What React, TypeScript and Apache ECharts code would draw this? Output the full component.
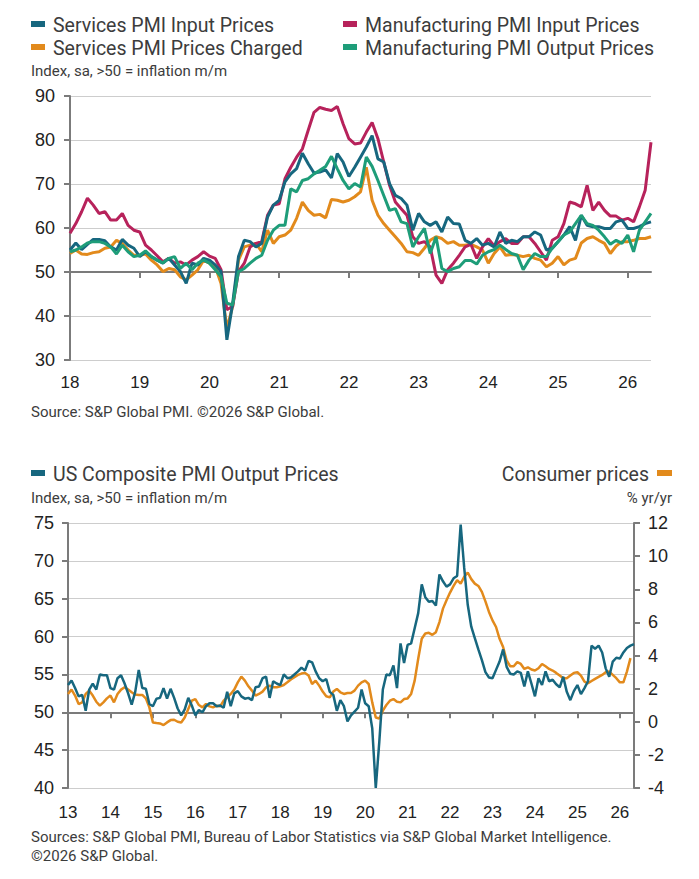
import React, { useEffect, useRef } from "react";
import * as echarts from "echarts";

// ---------- Data ----------
const topStartYear = 2018;
const topMonthCount = 101; // Jan 2018 .. May 2026
const bottomStartYear = 2013;
const bottomMonthCount = 161; // Jan 2013 .. May 2026

const servicesInputName = "Services PMI Input Prices";
const servicesChargedName = "Services PMI Prices Charged";
const mfgInputName = "Manufacturing PMI Input Prices";
const mfgOutputName = "Manufacturing PMI Output Prices";
const compositeName = "US Composite PMI Output Prices";
const cpiName = "Consumer prices";

const servicesInput = [
  55, 56.6, 55.1, 56.3, 57.4, 57.4, 57.1, 55.7, 55, 57.4, 56.1, 55.4,
  53.5, 54.6, 53.5, 52.7, 52, 53.1, 51.6, 50.1, 47.4, 52, 51.6, 53.1,
  52.7, 51.6, 50.1, 34.6, 42.9, 53.5, 57.2, 56.9, 55.7, 56.5, 62.5, 65.2,
  66.3, 70.5, 72.3, 73.5, 77, 74.6, 72.5, 72.7, 73.2, 71.4, 76.9, 75,
  71.7, 73.8, 76.1, 78.4, 81, 75.7, 75, 70.1, 67.4, 66.7, 65.2, 59.5,
  63.3, 61.4, 60.6, 61.4, 59.1, 62.5, 61, 60.9, 57.2, 56.5, 57.6, 56.1,
  56.5, 55.7, 59.1, 56.5, 57.2, 56.9, 58, 58, 59.1, 58.4, 55, 55.4,
  56.9, 58.4, 60.3, 57.2, 62.9, 60.6, 60.3, 60.3, 59.9, 59.9, 61.4, 61.8,
  59.9, 59.9, 60.3, 61, 61.4,
];
const servicesCharged = [
  54.2, 55, 54.1, 54, 54.4, 54.6, 55.4, 55.7, 57.2, 56.5, 55, 53.8,
  53.8, 54.1, 52.7, 51.6, 50.1, 50.8, 50.5, 48.9, 48.2, 49.3, 50.5, 52.7,
  52, 51.2, 47.4, 37.2, 42.2, 52.7, 55.7, 56.1, 56.5, 54.6, 59.5, 56.5,
  58, 58.4, 59.5, 62.2, 65.9, 64, 62.9, 63.1, 62.3, 66.5, 66.3, 65.9,
  66.3, 67.1, 68.2, 73.8, 66.3, 62.9, 61, 59.5, 58, 56.5, 54.6, 54.4,
  53.8, 55.4, 57.2, 58, 57.6, 56.5, 56.9, 56.1, 56.1, 56.3, 55.7, 55,
  52, 54.2, 55.7, 53.8, 54, 53.8, 53.5, 53.8, 53.1, 52.7, 51.2, 52,
  53.5, 51.6, 52.7, 53.1, 56.6, 57.6, 58, 57.2, 56.5, 54.2, 55.9, 56.9,
  56.9, 57.2, 57.6, 57.6, 58,
];
const mfgInput = [
  58.8, 61, 63.7, 66.8, 65.2, 63.3, 63.7, 61.8, 61.8, 63.3, 60.6, 59.5,
  59.1, 56.1, 55, 53.7, 52.3, 53.1, 52, 52.3, 51.6, 52.7, 53.5, 54.6,
  53.6, 53.1, 50.5, 41.4, 42.2, 50.1, 52, 55.7, 56.5, 56.9, 62.9, 65.2,
  65.5, 71.2, 73.8, 76.1, 78, 82.2, 86.3, 87.4, 87, 86.7, 87.6, 83.7,
  80.3, 79.1, 79.3, 81.8, 84, 80.3, 75, 69.7, 65.9, 64.4, 62.9, 58,
  56.5, 56.9, 55.7, 49.3, 47.4, 50.5, 52, 53.8, 55.7, 56.3, 53.1, 55.7,
  57.6, 55.9, 56.9, 57.6, 56.5, 56.5, 58, 58, 56.5, 54.6, 52.7, 57.2,
  58, 61, 65.9, 65.5, 64.8, 69.7, 64, 65.9, 64, 62.7, 62.7, 61.8,
  62.2, 61.4, 64.8, 68.6, 79.5,
];
const mfgOutput = [
  54.6, 55, 55.7, 56.6, 56.9, 56.9, 56.5, 55.7, 54.1, 56.1, 54.6, 53.5,
  53.8, 54.8, 53.5, 52.7, 52.1, 53.1, 53.5, 50.8, 52, 50.5, 52, 52.7,
  52, 50.5, 48.9, 42.9, 42.5, 50.1, 50.8, 52, 53.1, 53.8, 57.2, 59.5,
  60.6, 60.6, 68.9, 68.2, 70.8, 71.2, 72.3, 73.1, 74, 76.3, 73.5, 70.8,
  68.9, 70.1, 69.3, 76.1, 74, 70.8, 67.4, 64, 64.4, 61.4, 61, 55.7,
  58, 59.9, 54.2, 58, 50.8, 50.1, 50.8, 51.2, 52.6, 52.6, 51.8, 53.8,
  54.6, 55.1, 56.1, 55.1, 54.2, 53.8, 50.5, 52.7, 54.2, 53.5, 53.5, 55.4,
  56.9, 58.4, 59.1, 61, 62.9, 61, 60.6, 59.5, 58, 56.3, 57.2, 56.5,
  58.4, 54.6, 59.5, 61.4, 63.3,
];

const compositeOutputPrices = [
  53.6, 54.2, 53.2, 52.1, 52.3, 50.2, 53, 53.8, 53, 55, 54.9, 54.9,
  53.2, 53, 54.5, 54.9, 53.8, 52.5, 51, 52.7, 55.6, 53.2, 53.1, 51.1,
  50.8, 51.8, 51.9, 53.2, 51.8, 53.1, 51.9, 50.5, 49.6, 50.4, 51.9, 50.9,
  49.6, 50.3, 50, 50.8, 51.2, 51.2, 50.8, 50.9, 50.6, 52.7, 50.8, 52.5,
  52.8, 52.1, 51.8, 51.9, 51.6, 53.3, 53.4, 54.5, 54.7, 51.9, 54.1, 53.8,
  53.6, 55, 54.5, 54.6, 55, 55.4, 55.9, 55.5, 56.8, 56.6, 55.4, 54.5,
  54.1, 54.4, 52.7, 52.3, 50.2, 51.6, 50.8, 48.8, 49.6, 50.1, 50.6, 53,
  51.2, 50.8, 47.9, 40, 46.1, 53, 55, 54.9, 56.2, 53.2, 59.1, 56.5,
  58.9, 59.1, 61.1, 63.1, 66.9, 65.2, 64.6, 64.7, 64.1, 68.2, 67.3, 66.6,
  66.9, 67.7, 68, 74.8, 69.1, 64.2, 61.3, 59.8, 58.3, 56.9, 55.3, 54.6,
  54.5, 55.6, 56.7, 58.3, 56, 55.1, 55, 55.4, 55.2, 53.4, 55.4, 53.8,
  52.1, 54.5, 53.6, 55.4, 54.1, 54.3, 53.7, 53.3, 54.7, 52.7, 51.6, 52.8,
  53.6, 52.4, 53.2, 54.1, 58.8, 58.4, 58.8, 57.9, 55.8, 54.7, 56.7, 57.2,
  57.1, 57.9, 58.5, 58.8, 59,
];
const consumerPrices = [
  1.68, 1.94, 1.58, 1.07, 1.17, 1.68, 1.88, 1.58, 1.21, 0.97, 1.17, 1.41,
  1.58, 1.17, 1.68, 1.94, 2.08, 1.94, 1.78, 1.64, 1.62, 1.62, 1.41, 0.87,
  -0.04, -0.08, -0.1, -0.2, -0.04, 0.1, 0.12, 0, -0.04, 0.26, 0.77, 1.27,
  1.37, 1.01, 0.87, 1.07, 0.93, 0.87, 0.97, 0.93, 1.27, 1.47, 1.68, 1.94,
  2.38, 2.73, 2.48, 2.14, 1.88, 1.58, 1.68, 1.82, 2.08, 2.18, 2.08, 2.08,
  2.14, 2.22, 2.38, 2.55, 2.69, 2.83, 2.91, 2.95, 2.79, 2.28, 2.48, 2.18,
  1.82, 1.54, 1.47, 1.82, 1.98, 1.78, 1.68, 1.74, 1.74, 1.88, 2.18, 2.38,
  2.48, 2.28, 1.17, 0.26, 0.2, 0.67, 1.01, 1.27, 1.37, 1.21, 1.17, 1.37,
  1.41, 1.68, 2.48, 3.8, 5.01, 5.33, 5.37, 5.25, 5.41, 6.02, 6.83, 7.33,
  7.8, 8.2, 8.55, 8.34, 8.75, 9.01, 8.61, 8.34, 8.2, 7.84, 7.27, 6.63,
  6.12, 5.72, 5.01, 4.51, 3.7, 3.35, 3.35, 3.6, 3.49, 3.19, 3.29, 3.15,
  3.09, 3.23, 3.49, 3.35, 3.19, 3.09, 2.95, 2.79, 2.63, 2.63, 2.79, 2.95,
  2.99, 2.79, 2.42, 2.32, 2.46, 2.59, 2.71, 2.83, 2.99, 3.03, 2.83, 2.63,
  2.38, 2.38, 3.03, 3.84, null,
];

const topYTicks = { min: 30, max: 90, interval: 10 };
const bottomLeftYTicks = { min: 40, max: 75, interval: 5 };
const bottomRightYTicks = { min: -4, max: 12, interval: 2 };

const subtitleText = "Index, sa, >50 = inflation m/m";
const cpiUnitText = "% yr/yr";
const topSourceText = "Source: S&P Global PMI. ©2026 S&P Global.";
const bottomSourceLines = [
  "Sources: S&P Global PMI, Bureau of Labor Statistics via S&P Global Market Intelligence.",
  "©2026 S&P Global.",
];

// ---------- Helpers ----------
function monthCategories(startYear: number, count: number): string[] {
  const out: string[] = [];
  for (let i = 0; i < count; i++) {
    const y = startYear + Math.floor(i / 12);
    const m = (i % 12) + 1;
    out.push(`${y}-${m < 10 ? "0" + m : m}`);
  }
  return out;
}

const topMonths = monthCategories(topStartYear, topMonthCount);
const bottomMonths = monthCategories(bottomStartYear, bottomMonthCount);

const COLORS = {
  teal: "#17677f",
  orange: "#e28a1c",
  magenta: "#b7225b",
  green: "#1e9d79",
  axis: "#7b7b7b",
  grid: "#cdcdcd",
  label: "#222222",
  text: "#3c3c3c",
};

const isJan = (_i: number, v: string) => String(v).slice(5, 7) === "01";
const yearLabel = (v: string) => String(v).slice(2, 4);

const axisFont = "'Liberation Sans', Arial, sans-serif";
const textFont = "Roboto, 'Noto Sans', sans-serif";

export default function App() {
  const ref = useRef<HTMLDivElement>(null);

  useEffect(() => {
    if (!ref.current) return;
    const chart = echarts.init(ref.current, undefined, { renderer: "svg" });

    const topGrid = { left: 70, top: 96, width: 581, height: 264 };
    const botGrid = { left: 68, top: 523, width: 566, height: 265 };
    const topZeroOffset = -((50 - topYTicks.min) / (topYTicks.max - topYTicks.min)) * topGrid.height;
    const botZeroOffset =
      -((50 - bottomLeftYTicks.min) / (bottomLeftYTicks.max - bottomLeftYTicks.min)) * botGrid.height;

    const axisLineStyle = { color: COLORS.axis, width: 2 };
    const legendFont = `19.5px ${textFont}`;
    const smallFont = `15px ${textFont}`;

    // y = vertical centre of the text row
    const legendItem = (x: number, y: number, color: string, name: string) => [
      { type: "rect", left: x, top: y - 5, shape: { width: 14, height: 6 }, style: { fill: color } },
      {
        type: "text",
        left: x + 22,
        top: y - 11,
        style: { text: name, font: legendFont, fill: COLORS.text },
      },
    ];

    const option: any = {
      animation: false,
      backgroundColor: "#ffffff",
      grid: [
        { ...topGrid, containLabel: false },
        { ...botGrid, containLabel: false },
      ],
      xAxis: [
        {
          gridIndex: 0,
          type: "category",
          position: "bottom",
          data: topMonths,
          boundaryGap: false,
          offset: topZeroOffset,
          axisLine: { show: true, onZero: false, lineStyle: axisLineStyle },
          axisTick: { show: true, interval: isJan, length: 6, lineStyle: axisLineStyle },
          axisLabel: { show: false },
          splitLine: { show: false },
        },
        {
          gridIndex: 0,
          type: "category",
          position: "bottom",
          data: topMonths,
          boundaryGap: false,
          axisLine: { show: false, onZero: false },
          axisTick: { show: false },
          axisLabel: {
            show: true,
            interval: isJan,
            formatter: yearLabel,
            margin: 14,
            fontSize: 17,
            fontFamily: axisFont,
            color: COLORS.label,
          },
          splitLine: { show: false },
        },
        {
          gridIndex: 1,
          type: "category",
          position: "bottom",
          data: bottomMonths,
          boundaryGap: false,
          offset: botZeroOffset,
          axisLine: { show: true, onZero: false, lineStyle: axisLineStyle },
          axisTick: { show: true, interval: isJan, length: 6, lineStyle: axisLineStyle },
          axisLabel: { show: false },
          splitLine: { show: false },
        },
        {
          gridIndex: 1,
          type: "category",
          position: "bottom",
          data: bottomMonths,
          boundaryGap: false,
          axisLine: { show: false, onZero: false },
          axisTick: { show: false },
          axisLabel: {
            show: true,
            interval: isJan,
            formatter: yearLabel,
            margin: 16,
            fontSize: 17,
            fontFamily: axisFont,
            color: COLORS.label,
          },
          splitLine: { show: false },
        },
      ],
      yAxis: [
        {
          gridIndex: 0,
          type: "value",
          ...topYTicks,
          axisLine: { show: true, lineStyle: axisLineStyle },
          axisTick: { show: true, length: 6, lineStyle: axisLineStyle },
          axisLabel: { margin: 15, fontSize: 18, fontFamily: axisFont, color: COLORS.label },
          splitLine: { show: true, lineStyle: { color: COLORS.grid, width: 1 } },
        },
        {
          gridIndex: 1,
          type: "value",
          position: "left",
          ...bottomLeftYTicks,
          axisLine: { show: true, lineStyle: axisLineStyle },
          axisTick: { show: true, length: 6, lineStyle: axisLineStyle },
          axisLabel: { margin: 14, fontSize: 18, fontFamily: axisFont, color: COLORS.label },
          splitLine: { show: true, lineStyle: { color: COLORS.grid, width: 1 } },
        },
        {
          gridIndex: 1,
          type: "value",
          position: "right",
          ...bottomRightYTicks,
          axisLine: { show: true, lineStyle: axisLineStyle },
          axisTick: { show: true, length: 6, lineStyle: axisLineStyle },
          axisLabel: { margin: 14, fontSize: 18, fontFamily: axisFont, color: COLORS.label },
          splitLine: { show: false },
        },
      ],
      series: [
        {
          name: servicesChargedName,
          type: "line",
          xAxisIndex: 0,
          yAxisIndex: 0,
          data: servicesCharged,
          symbol: "none",
          lineStyle: { color: COLORS.orange, width: 3 },
          itemStyle: { color: COLORS.orange },
        },
        {
          name: mfgInputName,
          type: "line",
          xAxisIndex: 0,
          yAxisIndex: 0,
          data: mfgInput,
          symbol: "none",
          lineStyle: { color: COLORS.magenta, width: 3 },
          itemStyle: { color: COLORS.magenta },
        },
        {
          name: servicesInputName,
          type: "line",
          xAxisIndex: 0,
          yAxisIndex: 0,
          data: servicesInput,
          symbol: "none",
          lineStyle: { color: COLORS.teal, width: 3 },
          itemStyle: { color: COLORS.teal },
        },
        {
          name: mfgOutputName,
          type: "line",
          xAxisIndex: 0,
          yAxisIndex: 0,
          data: mfgOutput,
          symbol: "none",
          lineStyle: { color: COLORS.green, width: 3 },
          itemStyle: { color: COLORS.green },
        },
        {
          name: cpiName,
          type: "line",
          xAxisIndex: 2,
          yAxisIndex: 2,
          data: consumerPrices,
          symbol: "none",
          lineStyle: { color: COLORS.orange, width: 2.5 },
          itemStyle: { color: COLORS.orange },
        },
        {
          name: compositeName,
          type: "line",
          xAxisIndex: 2,
          yAxisIndex: 1,
          data: compositeOutputPrices,
          symbol: "none",
          lineStyle: { color: COLORS.teal, width: 2.5 },
          itemStyle: { color: COLORS.teal },
        },
      ],
      graphic: [
        ...legendItem(31, 26, COLORS.teal, servicesInputName),
        ...legendItem(343, 26, COLORS.magenta, mfgInputName),
        ...legendItem(31, 49, COLORS.orange, servicesChargedName),
        ...legendItem(343, 49, COLORS.green, mfgOutputName),
        {
          type: "text",
          left: 31,
          top: 63,
          style: { text: subtitleText, font: smallFont, fill: COLORS.text },
        },
        {
          type: "text",
          left: 31,
          top: 404,
          style: { text: topSourceText, font: smallFont, fill: COLORS.text },
        },
        ...legendItem(31, 475, COLORS.teal, compositeName),
        {
          type: "text",
          left: 31,
          top: 490,
          style: { text: subtitleText, font: smallFont, fill: COLORS.text },
        },
        {
          type: "text",
          right: 50,
          top: 464,
          style: { text: cpiName, font: legendFont, fill: COLORS.text },
        },
        {
          type: "rect",
          right: 27,
          top: 470,
          shape: { width: 15, height: 6 },
          style: { fill: COLORS.orange },
        },
        {
          type: "text",
          right: 27,
          top: 490,
          style: { text: cpiUnitText, font: smallFont, fill: COLORS.text },
        },
        {
          type: "text",
          left: 31,
          top: 829,
          style: { text: bottomSourceLines[0], font: smallFont, fill: COLORS.text },
        },
        {
          type: "text",
          left: 31,
          top: 848,
          style: { text: bottomSourceLines[1], font: smallFont, fill: COLORS.text },
        },
      ],
    };

    chart.setOption(option);
    return () => chart.dispose();
  }, []);

  return (
    <div
      ref={ref}
      style={{ position: "fixed", left: 0, top: 0, width: 699, height: 879, background: "#fff" }}
    />
  );
}
